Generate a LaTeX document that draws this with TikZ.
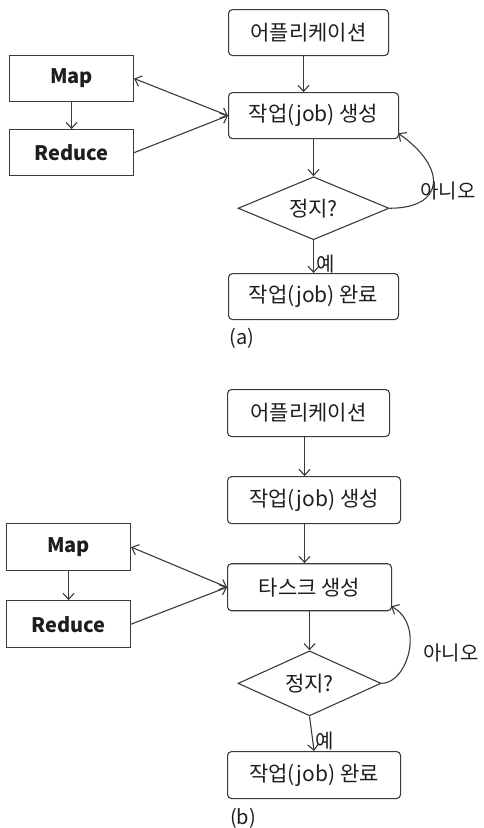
\documentclass[tikz,border=0pt]{standalone}
\usepackage{fontspec}
\setmainfont{Noto Sans CJK KR}
\usepackage{tikz}
\usetikzlibrary{positioning,shapes.geometric,arrows.meta}
\definecolor{linegray}{RGB}{58,58,58}
\definecolor{textgray}{RGB}{30,30,30}

\begin{document}
\begin{tikzpicture}[
  x=1pt, y=-1pt,
  >={Straight Barb[length=6pt,width=11pt]},
  every path/.style={draw=linegray, line width=1.1pt},
  rbox/.style={rectangle, draw, rounded corners=4pt, minimum height=46,
    inner sep=0pt, text=textgray, font=\fontsize{21}{24}\selectfont},
  sbox/.style={rectangle, draw, minimum width=124, minimum height=46,
    inner sep=0pt, text=textgray, font=\fontsize{20}{24}\selectfont\bfseries},
  decision/.style={diamond, draw, aspect=2.3, inner sep=0pt,
    text=textgray, font=\fontsize{21}{24}\selectfont},
  lbl/.style={text=textgray, inner sep=2pt, font=\fontsize{20}{24}\selectfont}
]
\useasboundingbox[draw=none] (0,0) rectangle (483,828);

% ── (a) nodes ──
\node[rbox, minimum width=160, anchor=north west] (appA) at (228,9) {어플리케이션};
\node[rbox, minimum width=170, below=36pt of appA.south west, anchor=north west]
  (jobA) {작업(job) 생성};
\node[decision, minimum width=151, minimum height=63, below=37pt of jobA]
  (decA) {정지?};
\node[rbox, minimum width=170, anchor=north west] (doneA) at (228,273)
  {작업(job) 완료};
\node[sbox, anchor=north west] (mapA) at (9,55) {Map};
\node[sbox, below=27pt of mapA] (redA) {Reduce};
\node[lbl] (noA) at (448,191) {아니오};
\node[lbl] (capA) at (242,338) {(a)};

% ── (a) flow ──
\draw[->] ([xshift=-5pt]appA.south) -- ([xshift=-5pt]appA.south |- jobA.north);
\draw[->] (jobA) -- (decA);
\draw[->] (decA) -- (doneA)
  node[pos=.72, right, lbl] (yesA) {예};
\draw[->] (mapA) -- (redA);
\draw[<->] (mapA.east) -- (jobA.west);
\draw[->] (redA.east) -- (jobA.west);
\draw[->] (decA.east) .. controls +(55,0) and +(50,35) ..
  ([shift={(-1,-6)}]jobA.south east);

% ── (b) nodes ──
\node[rbox, minimum width=162, minimum height=47, anchor=north west] (appB) at (227,389)
  {어플리케이션};
\node[rbox, minimum width=173, minimum height=47, below=39pt of appB.south west,
  anchor=north west] (jobB) {작업(job) 생성};
\node[rbox, minimum width=164, minimum height=47, below=39pt of jobB.south west,
  anchor=north west] (taskB) {타스크 생성};
\node[decision, minimum width=143, minimum height=65, below=39pt of taskB]
  (decB) {정지?};
\node[rbox, minimum width=173, minimum height=47, anchor=north west] (doneB) at (227,751)
  {작업(job) 완료};
\node[sbox, minimum height=47, anchor=north west] (mapB) at (6,523) {Map};
\node[sbox, minimum height=47, below=29pt of mapB] (redB) {Reduce};
\node[lbl] (noB) at (451,653) {아니오};
\node[lbl] (capB) at (243,818) {(b)};

% ── (b) flow ──
\draw[->] ([xshift=-4pt]appB.south) -- ([xshift=-4pt]appB.south |- jobB.north);
\draw[->] ([xshift=-4pt]appB.south |- jobB.south) -- ([xshift=-4pt]appB.south |- taskB.north);
\draw[->] (taskB) -- (decB);
\draw[->] (decB.south) -- (doneB.north)
  node[pos=.72, right, lbl] (yesB) {예};
\draw[->] (mapB) -- (redB);
\draw[<->] (mapB.east) -- (taskB.west);
\draw[->] (redB.east) -- (taskB.west);
\draw[->] (decB.east) .. controls +(26,0) and +(34,18) ..
  ([shift={(-1,-5)}]taskB.south east);

\end{tikzpicture}
\end{document}
